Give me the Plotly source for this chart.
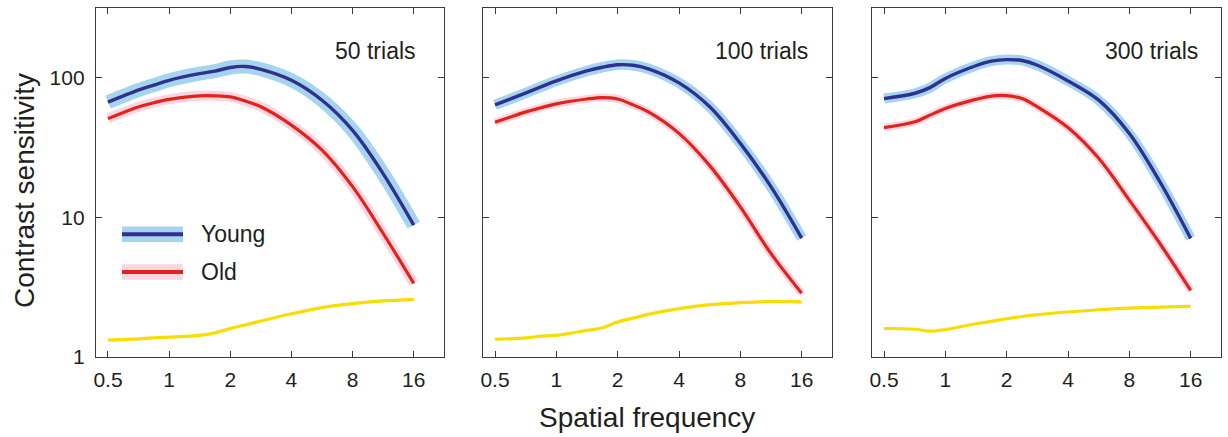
import plotly.graph_objects as go

# Spatial frequencies (c/deg) sampled along each curve
freq = [0.5, 0.71, 0.84, 1, 1.41, 1.68, 2, 2.38, 2.83, 4, 5.66, 8, 11.3, 16]

# Contrast sensitivity estimates per trial count
young_50 = [67, 82, 88.6, 96, 107, 111.6, 118.6, 120.5, 115, 96, 69, 42, 20.6, 8.8]
old_50 = [51, 62, 66.3, 70, 74.3, 74.3, 73, 68, 62, 45.8, 30.3, 16.6, 7.7, 3.37]
ratio_50 = [1.32, 1.35, 1.37, 1.39, 1.43, 1.49, 1.6, 1.70, 1.81, 2.04, 2.26, 2.41, 2.52, 2.59]

young_100 = [64, 78, 86, 95, 112, 119, 124, 123, 116, 92, 62, 33.9, 16.6, 7.1]
old_100 = [48, 57, 61, 65, 70.5, 72.2, 70.5, 64, 57, 40, 23.5, 11.9, 5.52, 2.86]
ratio_100 = [1.34, 1.37, 1.41, 1.43, 1.55, 1.62, 1.78, 1.90, 2.02, 2.22, 2.37, 2.45, 2.5, 2.48]

young_300 = [71, 77.5, 85, 99, 122, 131.5, 135, 133, 123, 95, 69.2, 39.9, 18, 7.08]
old_300 = [44, 48.4, 54, 60.3, 70, 74, 74.5, 71, 62, 44, 26.5, 13.3, 6.5, 3.0]
ratio_300 = [1.6, 1.58, 1.53, 1.57, 1.73, 1.8, 1.88, 1.95, 2.01, 2.1, 2.18, 2.24, 2.28, 2.31]

panel_labels = ["50 trials", "100 trials", "300 trials"]
x_tick_vals = [0.5, 1, 2, 4, 8, 16]
x_tick_text = ["0.5", "1", "2", "4", "8", "16"]
y_tick_vals = [1, 10, 100]
y_tick_text = ["1", "10", "100"]

panels = [
    (young_50, old_50, ratio_50),
    (young_100, old_100, ratio_100),
    (young_300, old_300, ratio_300),
]

FONT = "Liberation Sans, Arial, Helvetica, sans-serif"
TXT = "#231f20"
AX = "#3a3a3a"
BLUE = "#2e3192"
BLUE_BAND = "#a6d4ec"
RED = "#e2231a"
PINK_BAND = "#f9d5e3"
YELLOW = "#f9dc00"

W, H = 1228, 437
px_left = [96, 483, 872]
px_right = [444, 832, 1221]
px_top, px_bottom = 8, 357

band_w = [(14, 10), (10.5, 8), (10, 7.5)]
SPLINE = dict(shape="spline", smoothing=1.0)

fig = go.Figure()

for i, (young, old, ratio) in enumerate(panels):
    xa = "x" if i == 0 else f"x{i + 1}"
    ya = "y" if i == 0 else f"y{i + 1}"
    bw_young, bw_old = band_w[i]
    common = dict(x=freq, xaxis=xa, yaxis=ya, mode="lines", showlegend=False,
                  hoverinfo="skip")
    fig.add_trace(go.Scatter(y=young, line=dict(color=BLUE_BAND, width=bw_young, **SPLINE), **common))
    fig.add_trace(go.Scatter(y=old, line=dict(color=PINK_BAND, width=bw_old, **SPLINE), **common))
    fig.add_trace(go.Scatter(y=young, line=dict(color=BLUE, width=3.4, **SPLINE), **common))
    fig.add_trace(go.Scatter(y=old, line=dict(color=RED, width=3.2, **SPLINE), **common))
    fig.add_trace(go.Scatter(y=ratio, line=dict(color=YELLOW, width=3.2, **SPLINE), **common))

axis_common = dict(
    showline=True, mirror="allticks", linecolor=AX, linewidth=1.4,
    ticks="inside", ticklen=6, tickwidth=1.3, tickcolor=AX,
    showgrid=False, zeroline=False,
    tickfont=dict(family=FONT, size=21, color=TXT),
)

layout = dict(
    width=W, height=H,
    margin=dict(l=0, r=0, t=0, b=0),
    paper_bgcolor="white", plot_bgcolor="white",
    font=dict(family=FONT, color=TXT),
    showlegend=False,
)

y0 = (H - px_bottom) / H
y1 = (H - px_top) / H
for i in range(3):
    sfx = "" if i == 0 else str(i + 1)
    layout[f"xaxis{sfx}"] = dict(
        type="log", range=[-0.360, 1.353],
        domain=[px_left[i] / W, px_right[i] / W],
        anchor=f"y{sfx}",
        tickvals=x_tick_vals, ticktext=x_tick_text,
        ticklabelstandoff=4,
        automargin=False,
        **axis_common,
    )
    layout[f"yaxis{sfx}"] = dict(
        type="log", range=[0, 2.5],
        domain=[y0, y1],
        anchor=f"x{sfx}",
        tickvals=y_tick_vals, ticktext=y_tick_text,
        showticklabels=(i == 0),
        ticklabelstandoff=6,
        automargin=False,
        **axis_common,
    )

fig.update_layout(**layout)

annotations = []
for i, label in enumerate(panel_labels):
    xd = "x domain" if i == 0 else f"x{i + 1} domain"
    yd = "y domain" if i == 0 else f"y{i + 1} domain"
    annotations.append(dict(
        text=label, xref=xd, yref=yd, x=[0.925, 0.937, 0.94][i], y=0.877,
        xanchor="right", yanchor="middle", showarrow=False,
        font=dict(family=FONT, size=23, color=TXT),
    ))

# Axis titles
annotations.append(dict(
    text="Spatial frequency", xref="paper", yref="paper",
    x=647 / W, y=(H - 417) / H, xanchor="center", yanchor="middle",
    showarrow=False, font=dict(family=FONT, size=28, color=TXT),
))
annotations.append(dict(
    text="Contrast sensitivity", xref="paper", yref="paper",
    x=24 / W, y=(H - 191) / H, xanchor="center", yanchor="middle",
    textangle=-90, showarrow=False, font=dict(family=FONT, size=28, color=TXT),
))

# Legend inside the first panel: band swatch with centre line, then label
legend_items = [("Young", BLUE_BAND, BLUE, 0.352), ("Old", PINK_BAND, RED, 0.2436)]
shapes = []
for name, band_col, line_col, yy in legend_items:
    shapes.append(dict(type="line", xref="x domain", yref="y domain",
                       x0=0.0747, x1=0.25, y0=yy, y1=yy,
                       line=dict(color=band_col, width=15.5)))
    shapes.append(dict(type="line", xref="x domain", yref="y domain",
                       x0=0.0747, x1=0.25, y0=yy, y1=yy,
                       line=dict(color=line_col, width=4)))
    annotations.append(dict(
        text=name, xref="x domain", yref="y domain", x=0.296, y=yy,
        xanchor="left", yanchor="middle", showarrow=False,
        font=dict(family=FONT, size=23, color=TXT),
    ))

fig.update_layout(annotations=annotations, shapes=shapes)

# Keep the page exactly the size of the figure
page_css = (
    "document.documentElement.style.margin='0';"
    "document.documentElement.style.overflow='hidden';"
    "document.body.style.margin='0';"
    "document.body.style.overflow='hidden';"
    "document.body.style.height='437px';"
)
fig.write_html("out.html", post_script=page_css)
